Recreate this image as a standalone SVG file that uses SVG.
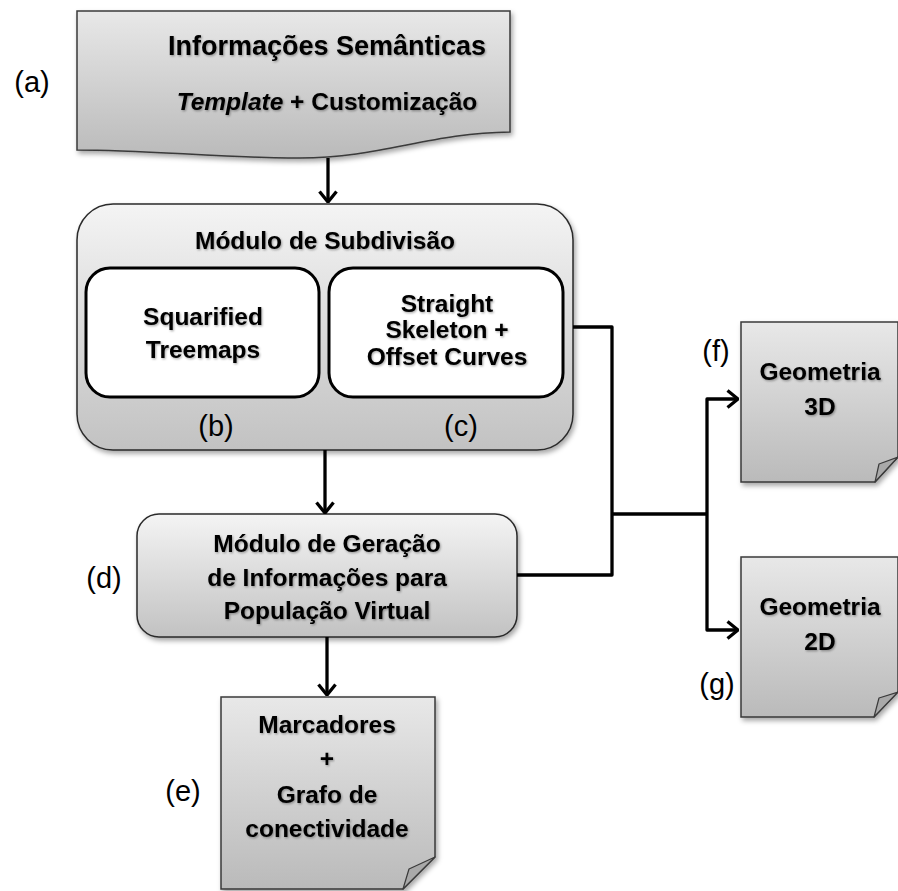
<svg xmlns="http://www.w3.org/2000/svg" width="898" height="891" viewBox="0 0 898 891">
  <defs>
    <linearGradient id="gDoc" x1="0" y1="0" x2="0" y2="1">
      <stop offset="0" stop-color="#e8e8e8"/>
      <stop offset="1" stop-color="#bababa"/>
    </linearGradient>
    <linearGradient id="gBox" x1="0" y1="0" x2="0" y2="1">
      <stop offset="0" stop-color="#f4f4f4"/>
      <stop offset="1" stop-color="#c2c2c2"/>
    </linearGradient>
    <filter id="shadow" x="-10%" y="-10%" width="130%" height="130%">
      <feDropShadow dx="2" dy="3" stdDeviation="2.5" flood-color="#000" flood-opacity="0.35"/>
    </filter>
    <filter id="tshadow" x="-5%" y="-20%" width="110%" height="150%">
      <feDropShadow dx="1" dy="1.2" stdDeviation="0.8" flood-color="#000" flood-opacity="0.35"/>
    </filter>
    <marker id="arrow" viewBox="0 0 13 20" refX="12" refY="10" markerWidth="13" markerHeight="20" markerUnits="userSpaceOnUse" orient="auto">
      <path d="M1.5,1.5 L12,10 L1.5,18.5" fill="none" stroke="#000" stroke-width="3.3" stroke-linejoin="miter"/>
    </marker>
    <style>
      .doc { fill: url(#gDoc); stroke: #3a3a3a; stroke-width: 1.5; filter: url(#shadow); }
      .box { fill: url(#gBox); stroke: #2a2a2a; stroke-width: 1.5; filter: url(#shadow); }
      .inner { fill: #fff; stroke: #000; stroke-width: 3; }
      .flap { fill: #a9a9a9; stroke: #3a3a3a; stroke-width: 1.2; stroke-linejoin: round; }
      .t { font-family: "Liberation Sans", Arial, sans-serif; font-weight: bold; font-size: 24.5px; fill: #000; text-anchor: middle; filter: url(#tshadow); }
      .title { font-size: 27px; }
      .lbl { font-family: "Liberation Sans", Arial, sans-serif; font-size: 29px; fill: #000; text-anchor: middle; }
      .wire { fill: none; stroke: #000; stroke-width: 3.3; stroke-linejoin: round; }
    </style>
  </defs>

  <!-- input document: semantic information -->
  <g id="node-a">
    <path class="doc" d="M77,11 H510 V132 C 430,133 380,158 300,158 C 220,158 150,150 77,150 Z"/>
    <text class="t title" x="327" y="55">Informações Semânticas</text>
    <text class="t" x="327" y="110"><tspan font-style="italic">Template</tspan> + Customização</text>
    <text class="lbl" x="32" y="92">(a)</text>
  </g>

  <!-- subdivision module with its two methods -->
  <g id="node-subdivisao">
    <rect class="box" x="77" y="204" width="496" height="246" rx="36" ry="36"/>
    <text class="t" x="325" y="249">Módulo de Subdivisão</text>
  </g>
  <g id="node-b">
    <rect class="inner" x="86" y="268" width="233" height="129" rx="24" ry="24"/>
    <text class="t" x="203" y="325">Squarified</text>
    <text class="t" x="203" y="358">Treemaps</text>
    <text class="lbl" x="216" y="436">(b)</text>
  </g>
  <g id="node-c">
    <rect class="inner" x="329" y="268" width="234" height="129" rx="24" ry="24"/>
    <text class="t" x="447" y="312">Straight</text>
    <text class="t" x="447" y="338">Skeleton +</text>
    <text class="t" x="447" y="365">Offset Curves</text>
    <text class="lbl" x="461" y="436">(c)</text>
  </g>

  <!-- virtual population information module -->
  <g id="node-d">
    <rect class="box" x="137" y="514" width="380" height="123" rx="22" ry="22"/>
    <text class="t" x="327" y="552">Módulo de Geração</text>
    <text class="t" x="327" y="586">de Informações para</text>
    <text class="t" x="327" y="619">População Virtual</text>
    <text class="lbl" x="104" y="588">(d)</text>
  </g>

  <!-- output documents -->
  <g id="node-e">
    <path class="doc" d="M221,697 H435 V857 L403,889 H221 Z"/>
    <path class="flap" d="M403,889 L409,869 L435,857 Z"/>
    <text class="t" x="327" y="733">Marcadores</text>
    <text class="t" x="327" y="767">+</text>
    <text class="t" x="327" y="803">Grafo de</text>
    <text class="t" x="327" y="837">conectividade</text>
    <text class="lbl" x="183" y="801">(e)</text>
  </g>
  <g id="node-f">
    <path class="doc" d="M741,322 H898 V457 L875,482 H741 Z"/>
    <path class="flap" d="M875,482 L879,464 L898,457 Z"/>
    <text class="t" x="820" y="380">Geometria</text>
    <text class="t" x="820" y="415">3D</text>
    <text class="lbl" x="716" y="361">(f)</text>
  </g>
  <g id="node-g">
    <path class="doc" d="M741,557 H898 V692 L874,717 H741 Z"/>
    <path class="flap" d="M874,717 L879,698 L898,692 Z"/>
    <text class="t" x="820" y="615">Geometria</text>
    <text class="t" x="820" y="650">2D</text>
    <text class="lbl" x="717" y="694">(g)</text>
  </g>

  <!-- connectors -->
  <g id="connectors">
    <path class="wire" d="M328,158 V202" marker-end="url(#arrow)"/>
    <path class="wire" d="M325,450 V513" marker-end="url(#arrow)"/>
    <path class="wire" d="M327,637 V695" marker-end="url(#arrow)"/>
    <path class="wire" d="M573,327 H612 V575 H517"/>
    <path class="wire" d="M612,514 H707"/>
    <path class="wire" d="M707,514 V399 H738" marker-end="url(#arrow)"/>
    <path class="wire" d="M707,514 V630 H738" marker-end="url(#arrow)"/>
  </g>
</svg>
